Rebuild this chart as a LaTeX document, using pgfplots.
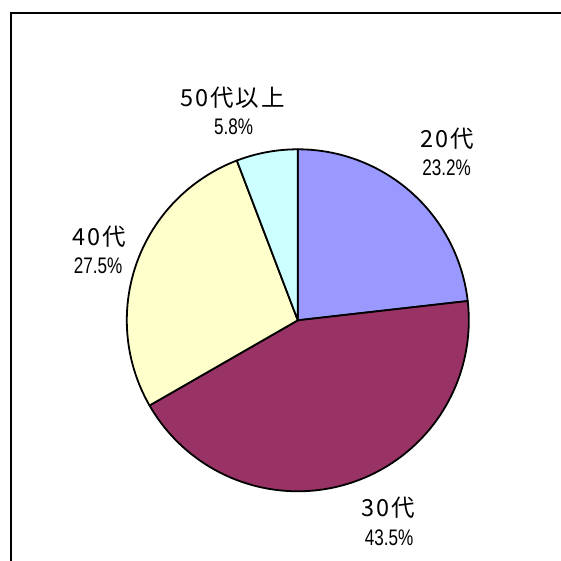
\documentclass[border=0pt]{standalone}
\usepackage{fontspec}
\usepackage{pgfplots}
\pgfplotsset{compat=1.18}
\newfontfamily\jp[LetterSpace=8]{Noto Sans CJK JP}
\newfontfamily\pc[FakeStretch=0.76]{Liberation Sans}
\definecolor{cA}{HTML}{9999FF}
\definecolor{cB}{HTML}{993366}
\definecolor{cC}{HTML}{FFFFCC}
\definecolor{cD}{HTML}{CCFFFF}
% shares (%)
\def\vA{23.2}
\def\vB{43.5}
\def\vC{27.5}
\def\vD{5.8}
\pgfmathsetmacro\aA{90}
\pgfmathsetmacro\aB{\aA-3.6*\vA}
\pgfmathsetmacro\aC{\aB-3.6*\vB}
\pgfmathsetmacro\aD{\aC-3.6*\vC}
\pgfmathsetmacro\aE{\aD-3.6*\vD}
\def\cx{297.8}
\def\cy{320.3}
\def\rr{171}
\begin{document}
\begin{tikzpicture}
\begin{axis}[
  scale only axis, width=561pt, height=561pt,
  xmin=0, xmax=561, ymin=0, ymax=561, y dir=reverse,
  hide axis, clip=false,
  every axis plot/.append style={draw=black, line width=1.8pt, line join=round},
]
\addplot[fill=cA, domain=\aB:\aA, samples=80] ({\cx+\rr*cos(x)},{\cy-\rr*sin(x)}) -- (axis cs:\cx,\cy) -- cycle;
\addplot[fill=cB, domain=\aC:\aB, samples=120] ({\cx+\rr*cos(x)},{\cy-\rr*sin(x)}) -- (axis cs:\cx,\cy) -- cycle;
\addplot[fill=cC, domain=\aD:\aC, samples=100] ({\cx+\rr*cos(x)},{\cy-\rr*sin(x)}) -- (axis cs:\cx,\cy) -- cycle;
\addplot[fill=cD, domain=\aE:\aD, samples=40] ({\cx+\rr*cos(x)},{\cy-\rr*sin(x)}) -- (axis cs:\cx,\cy) -- cycle;
\draw[line width=2pt] (axis cs:11,570) -- (axis cs:11,13) -- (axis cs:570,13);
\node[font=\jp\fontsize{23.5}{23.5}\selectfont] at (axis cs:447.5,138.5) {20代};
\node[font=\pc\fontsize{22.5}{22.5}\selectfont] at (axis cs:446.5,168) {23.2\%};
\node[font=\jp\fontsize{23.5}{23.5}\selectfont] at (axis cs:388,508) {30代};
\node[font=\pc\fontsize{22.5}{22.5}\selectfont] at (axis cs:389,537.5) {43.5\%};
\node[font=\jp\fontsize{23.5}{23.5}\selectfont] at (axis cs:99,236.5) {40代};
\node[font=\pc\fontsize{22.5}{22.5}\selectfont] at (axis cs:98,266) {27.5\%};
\node[font=\jp\fontsize{23.5}{23.5}\selectfont] at (axis cs:232.5,98) {50代以上};
\node[font=\pc\fontsize{22.5}{22.5}\selectfont] at (axis cs:233.5,127) {5.8\%};
\end{axis}
\pgfresetboundingbox
\path (0,0) rectangle (561pt,561pt);
\end{tikzpicture}
\end{document}
